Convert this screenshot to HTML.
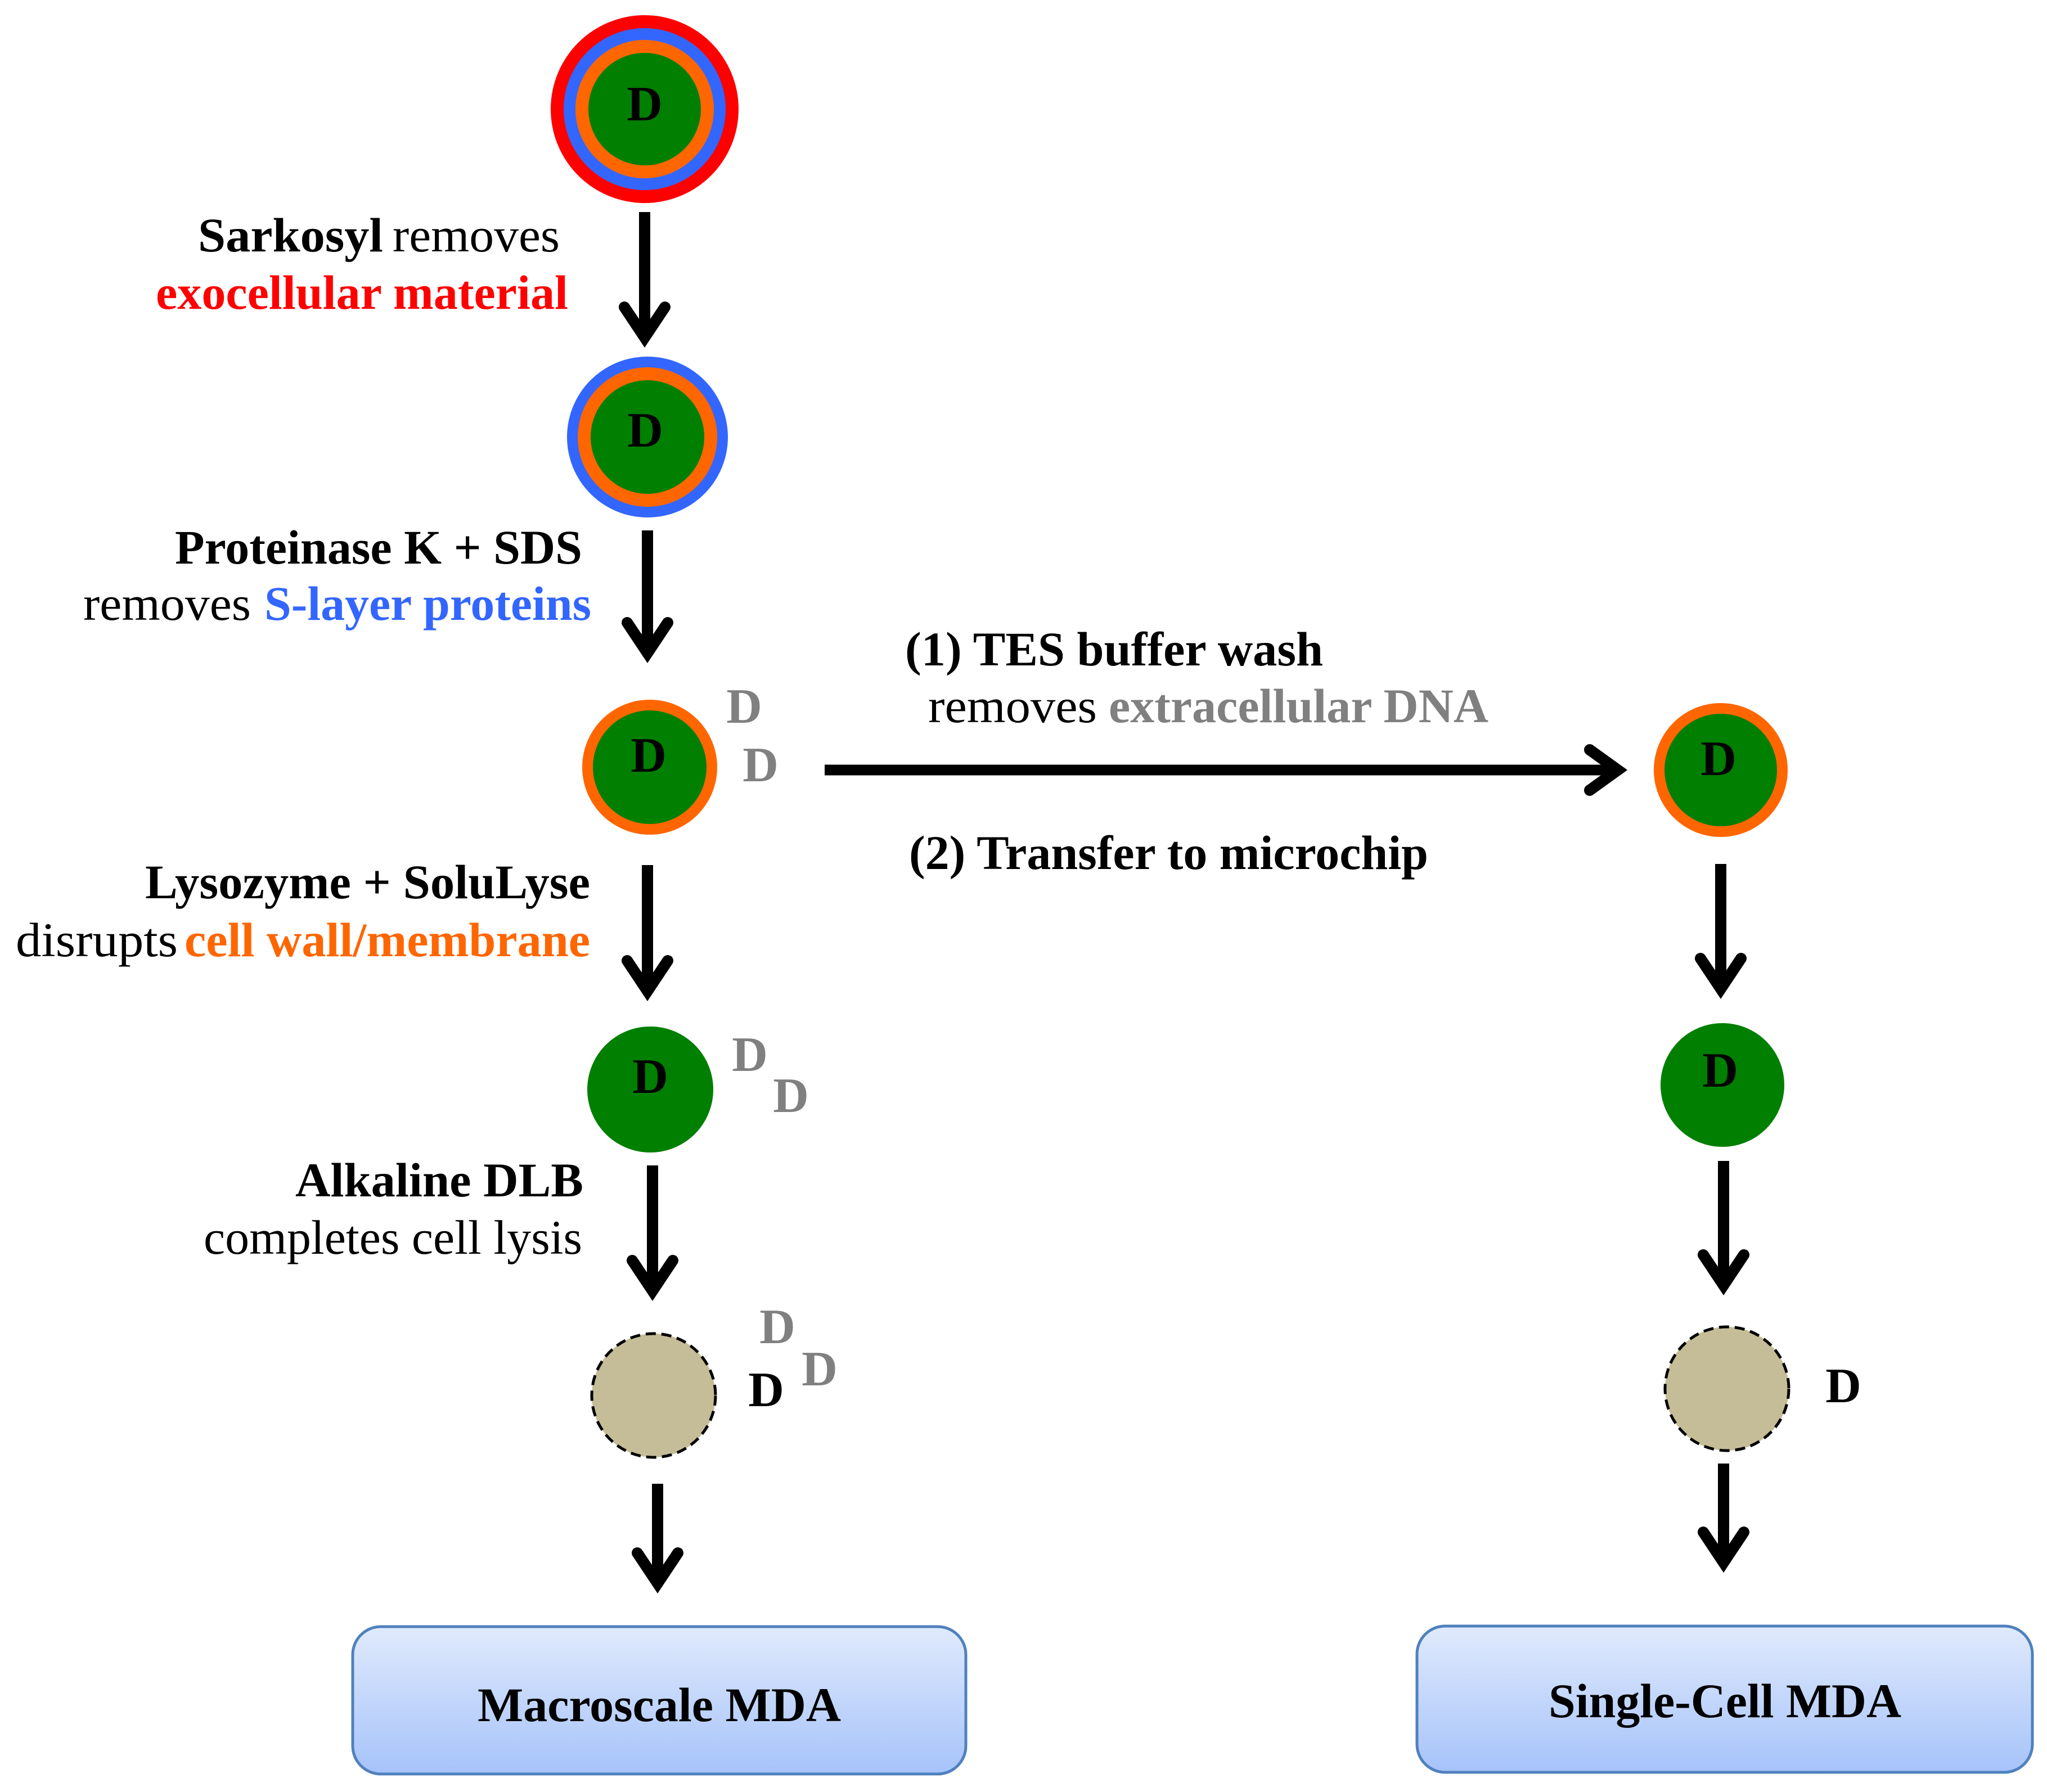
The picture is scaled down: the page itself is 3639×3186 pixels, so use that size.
<!DOCTYPE html>
<html><head><meta charset="utf-8"><style>
html,body{margin:0;padding:0;background:#fff;}
svg{display:block;}
text{font-family:"Liberation Serif",serif;font-size:86px;}
.b{font-weight:bold;}
.d{font-weight:bold;font-size:88px;text-anchor:middle;}
</style></head><body>
<svg width="3639" height="3186" viewBox="0 0 3639 3186" xmlns="http://www.w3.org/2000/svg">
<defs>
<linearGradient id="g" x1="0" y1="0" x2="0" y2="1">
<stop offset="0" stop-color="#e0eafc"/><stop offset="1" stop-color="#a6c3fa"/>
</linearGradient>
</defs>
<rect width="3639" height="3186" fill="#fff"/>

<circle cx="1146" cy="194" r="167" fill="#ff0000"/>
<circle cx="1146" cy="194" r="144" fill="#3366ff"/>
<circle cx="1146" cy="194" r="123" fill="#ff6600"/>
<circle cx="1146" cy="194" r="100" fill="#007f00"/>
<text class="d" x="1146" y="214">D</text>

<circle cx="1151" cy="777" r="143" fill="#3366ff"/>
<circle cx="1151" cy="777" r="124" fill="#ff6600"/>
<circle cx="1151" cy="777" r="101" fill="#007f00"/>
<text class="d" x="1147" y="794">D</text>

<circle cx="1155" cy="1364" r="120" fill="#ff6600"/>
<circle cx="1155" cy="1364" r="101" fill="#007f00"/>
<text class="d" x="1153" y="1372">D</text>
<text class="d" x="1323" y="1285" fill="#808080">D</text>
<text class="d" x="1352" y="1389" fill="#808080">D</text>

<circle cx="1156" cy="1937" r="112" fill="#007f00"/>
<text class="d" x="1156" y="1943">D</text>
<text class="d" x="1333" y="1904" fill="#808080">D</text>
<text class="d" x="1406" y="1977" fill="#808080">D</text>

<circle cx="1162" cy="2481" r="110" fill="#c4bd97" stroke="#000" stroke-width="5" stroke-dasharray="18,10"/>
<text class="d" x="1382" y="2388" fill="#808080">D</text>
<text class="d" x="1362" y="2500">D</text>
<text class="d" x="1457" y="2463" fill="#808080">D</text>

<circle cx="3059" cy="1369" r="119" fill="#ff6600"/>
<circle cx="3059" cy="1369" r="100" fill="#007f00"/>
<text class="d" x="3055" y="1378">D</text>

<circle cx="3062" cy="1929" r="110" fill="#007f00"/>
<text class="d" x="3058" y="1932">D</text>

<circle cx="3070" cy="2469" r="110" fill="#c4bd97" stroke="#000" stroke-width="5" stroke-dasharray="18,10"/>
<text class="d" x="3277" y="2493">D</text>

<g stroke="#000" stroke-width="20" fill="none" stroke-linejoin="miter" stroke-linecap="round">
<line x1="1146" y1="377" x2="1146" y2="600" stroke-linecap="butt"/>
<polyline points="1110,546 1146,600 1182,546"/>
<line x1="1151" y1="943" x2="1151" y2="1161" stroke-linecap="butt"/>
<polyline points="1115,1107 1151,1161 1187,1107"/>
<line x1="1151" y1="1538" x2="1151" y2="1762" stroke-linecap="butt"/>
<polyline points="1115,1708 1151,1762 1187,1708"/>
<line x1="1160" y1="2072" x2="1160" y2="2295" stroke-linecap="butt"/>
<polyline points="1124,2241 1160,2295 1196,2241"/>
<line x1="1169" y1="2638" x2="1169" y2="2815" stroke-linecap="butt"/>
<polyline points="1133,2761 1169,2815 1205,2761"/>

<line x1="3059" y1="1536" x2="3059" y2="1758" stroke-linecap="butt"/>
<polyline points="3023,1704 3059,1758 3095,1704"/>
<line x1="3064" y1="2064" x2="3064" y2="2285" stroke-linecap="butt"/>
<polyline points="3028,2231 3064,2285 3100,2231"/>
<line x1="3064" y1="2602" x2="3064" y2="2778" stroke-linecap="butt"/>
<polyline points="3028,2724 3064,2778 3100,2724"/>

<line x1="1466" y1="1369" x2="2876" y2="1369" stroke-width="19" stroke-linecap="butt"/>
<polyline points="2826,1333 2876,1369 2826,1405"/>
</g>

<text class="b" x="352" y="447" textLength="329" lengthAdjust="spacingAndGlyphs">Sarkosyl</text>
<text x="698" y="447" textLength="297" lengthAdjust="spacingAndGlyphs">removes</text>
<text class="b" x="277" y="549" textLength="733" lengthAdjust="spacingAndGlyphs" fill="#ff0000">exocellular material</text>

<text class="b" x="311" y="1002" textLength="724" lengthAdjust="spacingAndGlyphs">Proteinase K + SDS</text>
<text x="148" y="1102" textLength="298" lengthAdjust="spacingAndGlyphs">removes</text>
<text class="b" x="470" y="1102" textLength="581" lengthAdjust="spacingAndGlyphs" fill="#3366ff">S-layer proteins</text>

<text class="b" x="258" y="1597" textLength="791" lengthAdjust="spacingAndGlyphs">Lysozyme + SoluLyse</text>
<text x="28" y="1700" textLength="288" lengthAdjust="spacingAndGlyphs">disrupts</text>
<text class="b" x="328" y="1700" textLength="721" lengthAdjust="spacingAndGlyphs" fill="#ff6600">cell wall/membrane</text>

<text class="b" x="525" y="2127" textLength="512" lengthAdjust="spacingAndGlyphs">Alkaline DLB</text>
<text x="362" y="2229" textLength="673" lengthAdjust="spacingAndGlyphs">completes cell lysis</text>

<text class="b" x="1609" y="1183" textLength="743" lengthAdjust="spacingAndGlyphs">(1) TES buffer wash</text>
<text x="1650" y="1284" textLength="300" lengthAdjust="spacingAndGlyphs">removes</text>
<text class="b" x="1971" y="1284" textLength="675" lengthAdjust="spacingAndGlyphs" fill="#808080">extracellular DNA</text>
<text class="b" x="1616" y="1545" textLength="923" lengthAdjust="spacingAndGlyphs">(2) Transfer to microchip</text>

<rect x="627" y="2892" width="1090" height="262" rx="50" fill="url(#g)" stroke="#4f81bd" stroke-width="5"/>
<text class="b" x="849" y="3060" textLength="646" lengthAdjust="spacingAndGlyphs">Macroscale MDA</text>
<rect x="2519" y="2891" width="1094" height="260" rx="50" fill="url(#g)" stroke="#4f81bd" stroke-width="5"/>
<text class="b" x="2753" y="3053" textLength="627" lengthAdjust="spacingAndGlyphs">Single-Cell MDA</text>
</svg>
</body></html>
